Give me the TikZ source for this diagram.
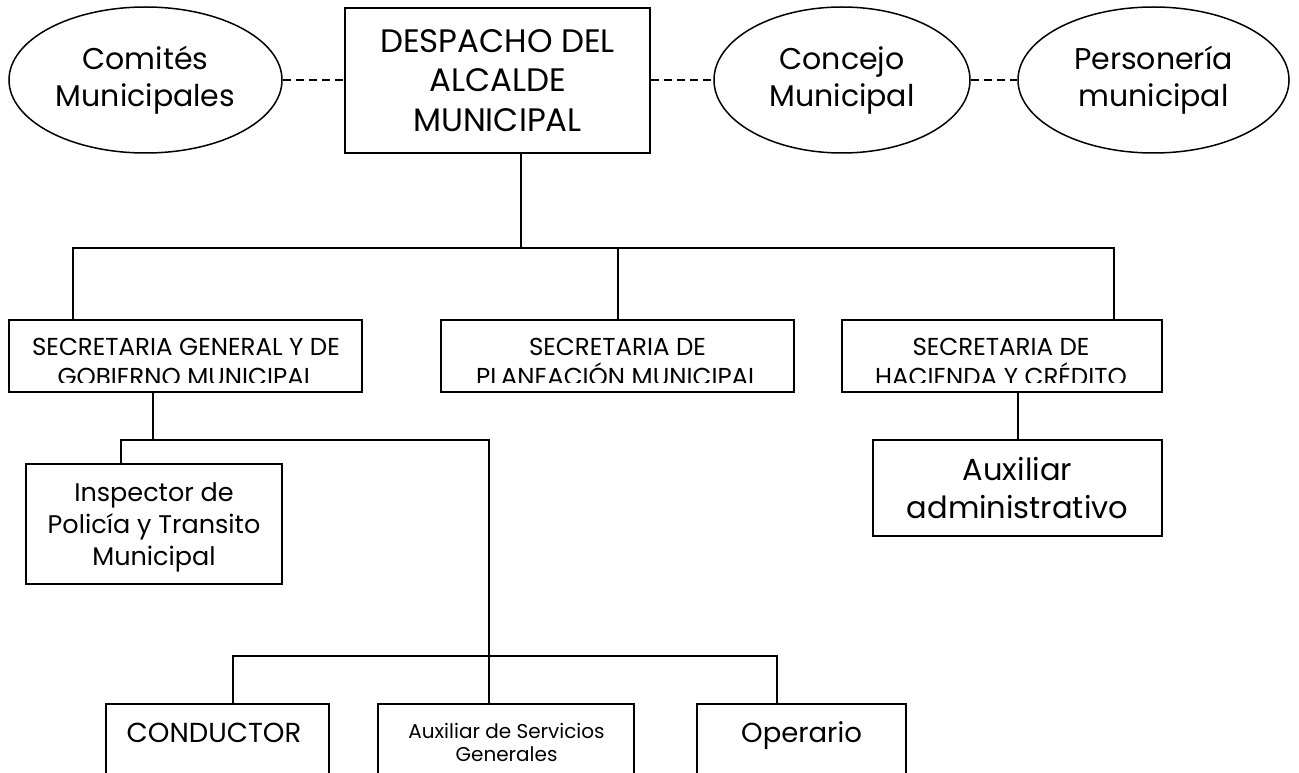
\documentclass[tikz,border=0pt]{standalone}
\usepackage{fontspec}
\setmainfont{Poppins}
\usetikzlibrary{shapes.geometric}
\begin{document}
\begin{tikzpicture}[x=1pt,y=-1pt,
  link/.style={line width=1.5pt, black},
  dashlink/.style={line width=1.5pt, black, dash pattern=on 8pt off 5pt},
  box/.style={draw=black, line width=1.5pt, rectangle, inner sep=0pt, align=center, text depth=0pt},
  oval/.style={draw=black, line width=1.5pt, ellipse, inner sep=0pt, align=center},
  txt/.style={inner sep=0pt, align=center, text depth=0pt},
  fbig/.style={font=\fontsize{32.5}{39.5}\selectfont},
  foval/.style={font=\fontsize{30}{37}\selectfont},
  fsec/.style={font=\fontsize{24.5}{30}\selectfont},
  finsp/.style={font=\fontsize{25.5}{32.3}\selectfont},
  fadm/.style={font=\fontsize{30.5}{38.4}\selectfont},
  fbot/.style={font=\fontsize{27.5}{32}\selectfont},
  fsmall/.style={font=\fontsize{20}{23}\selectfont}
]
\clip (0,0) rectangle (1299,773);
\fill[white] (0,0) rectangle (1299,773);

% top row
\node[oval, foval, minimum width=273pt, minimum height=146pt] (com) at (145.5,80) {Comités\\Municipales};
\node[box, fbig, minimum width=305pt, minimum height=145pt] (desp) at (497.5,80.5) {DESPACHO DEL\\ALCALDE\\MUNICIPAL};
\node[oval, foval, minimum width=256pt, minimum height=146pt] (conc) at (842,80) {Concejo\\Municipal};
\node[oval, foval, minimum width=271pt, minimum height=146pt] (pers) at (1153.5,80) {Personería\\municipal};

\draw[dashlink] (com.east) -- (com.east -| desp.west);
\draw[dashlink] (desp.east |- conc.west) -- (conc.west);
\draw[dashlink] (conc.east) -- (pers.west);

% secretarias
\node[box, minimum width=353pt, minimum height=72pt] (sg) at (185.5,356) {};
\node[box, minimum width=353pt, minimum height=72pt] (plan) at (617.5,356) {};
\node[box, minimum width=320pt, minimum height=72pt] (hac) at (1002,356) {};
\begin{scope}
  \clip (sg.north west) rectangle ([yshift=10pt]hac.south east);
  \node[txt, fsec] (sgt) at (186,362) {SECRETARIA GENERAL Y DE\\GOBIERNO MUNICIPAL};
  \node[txt, fsec] (plant) at (617.5,362) {SECRETARIA DE\\PLANEACIÓN MUNICIPAL};
  \node[txt, fsec] (hact) at (1001,362) {SECRETARIA DE\\HACIENDA Y CRÉDITO};
\end{scope}

\coordinate (b0) at (521,248);
\coordinate (bL) at (73,248);
\coordinate (bM) at (618,248);
\coordinate (bR) at (1114,248);
\draw[link] (b0 |- desp.south) -- (b0);
\draw[link] (bL |- sg.north) -- (bL) -- (bR) -- (bR |- hac.north);
\draw[link] (bM) -- (bM |- plan.north);

% second level
\node[box, finsp, minimum width=256pt, minimum height=120pt] (insp) at (154,524) {Inspector de\\Policía y Transito\\Municipal};
\node[box, fadm, minimum width=289pt, minimum height=96pt] (adm) at (1017.5,488) {Auxiliar\\administrativo};

\coordinate (s1) at (153,440);
\coordinate (i1) at (121,440);
\coordinate (v1) at (489,440);
\coordinate (v2) at (489,656);
\coordinate (c1) at (233,656);
\coordinate (o1) at (777,656);
\coordinate (h1) at (1018,440);
\draw[link] (s1 |- sg.south) -- (s1);
\draw[link] (i1 |- insp.north) -- (i1) -- (v1) -- (v2);
\draw[link] (h1 |- hac.south) -- (h1 |- adm.north);

% bottom row
\node[box, minimum width=223pt, minimum height=96pt] (cond) at (217.5,752) {};
\node[box, minimum width=256pt, minimum height=96pt] (aux) at (506,752) {};
\node[box, minimum width=209pt, minimum height=96pt] (oper) at (801.5,752) {};
\node[txt, fbot, anchor=base] (condt) at (214,742.7) {CONDUCTOR};
\node[txt, fsmall] (auxt) at (506.5,742.3) {Auxiliar de Servicios\\Generales};
\node[txt, fbot, anchor=base] (opert) at (801.5,742.7) {Operario};

\draw[link] (c1 |- cond.north) -- (c1) -- (o1) -- (o1 |- oper.north);
\draw[link] (v2) -- (v2 |- aux.north);
\end{tikzpicture}
\end{document}
